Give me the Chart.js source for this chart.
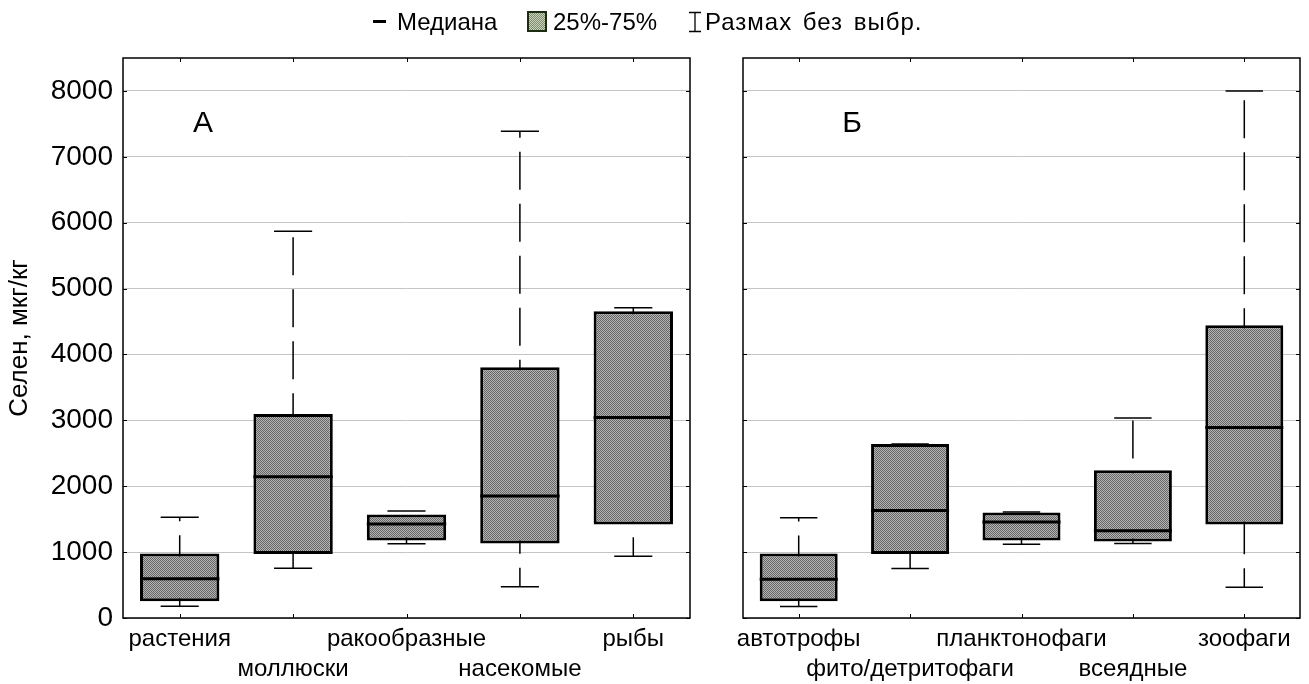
<!DOCTYPE html>
<html lang="ru">
<head>
<meta charset="utf-8">
<title>Селен, мкг/кг</title>
<script src="https://cdn.jsdelivr.net/npm/chart.js@4/dist/chart.umd.min.js"></script>
<style>
  html, body { margin: 0; padding: 0; background: #fff; }
  #wrap { position: relative; width: 1309px; height: 684px; overflow: hidden; font-family: "Liberation Sans", Arial, sans-serif; }
  canvas { position: absolute; top: 0; }
  #cA { left: 0; }
  #cB { left: 716px; }
  .lg { position: absolute; top: 8px; height: 28px; line-height: 28px; font-size: 24px; color: #000; white-space: nowrap; }
  .lg-med { position: absolute; left: 373px; top: 20px; width: 13px; height: 3px; background: #000; }
  .lg-box { position: absolute; left: 527px; top: 11px; width: 16px; height: 17px; border: 2px solid #1c2c12;
            background: repeating-conic-gradient(#7f8c6c 0 25%, #c9d2bb 0 50%) 0 0 / 2px 2px; }
  .lg-whisk { position: absolute; left: 688px; top: 11px; }
</style>
</head>
<body>
<div id="wrap">
  <canvas id="cA" width="716" height="684"></canvas>
  <canvas id="cB" width="593" height="684"></canvas>
  <div class="lg-med"></div>
  <div class="lg" style="left:397px">Медиана</div>
  <div class="lg-box"></div>
  <div class="lg" style="left:553px">25%-75%</div>
  <svg class="lg-whisk" width="14" height="22" viewBox="0 0 14 22">
    <path d="M1 1.5H13M7 1.5V20.5M1 20.5H13" stroke="#000" stroke-width="1.3" fill="none"/>
  </svg>
  <div class="lg" style="left:705px; word-spacing:3px; letter-spacing:1px">Размах без выбр.</div>
</div>
<script>
// Selenium content (мкг/кг) by taxonomic group (А) and by feeding type (Б)
const groupsA = ['растения', 'моллюски', 'ракообразные', 'насекомые', 'рыбы'];
const minA    = [180, 757, 1127, 474, 939];
const q1A     = [255, 970, 1177, 1132, 1421];
const medA    = [595, 2145, 1425, 1851, 3042];
const q3A     = [980, 3097, 1572, 3806, 4657];
const maxA    = [1531, 5870, 1623, 7387, 4710];

const groupsB = ['автотрофы', 'фито/детритофаги', 'планктонофаги', 'всеядные', 'зоофаги'];
const minB    = [175, 752, 1121, 1132, 468];
const q1B     = [255, 970, 1177, 1162, 1421];
const medB    = [590, 1633, 1456, 1325, 2890];
const q3B     = [980, 2641, 1603, 2241, 4444];
const maxB    = [1522, 2641, 1610, 3036, 8000];

const yTicks = [0, 1000, 2000, 3000, 4000, 5000, 6000, 7000, 8000];
const yMax = 8500;
const FONT = '"Liberation Sans", Arial, sans-serif';

// fine grey checker fill used for the interquartile boxes
function boxPattern() {
  const c = document.createElement('canvas');
  c.width = 2; c.height = 2;
  const g = c.getContext('2d');
  g.fillStyle = '#b4b4b4'; g.fillRect(0, 0, 2, 2);
  g.fillStyle = '#666666'; g.fillRect(0, 0, 1, 1); g.fillRect(1, 1, 1, 1);
  return g.createPattern(c, 'repeat');
}

// whiskers (dashed, drawn min→max behind the box), caps and medians
const boxWhiskers = {
  id: 'boxWhiskers',
  beforeDatasetsDraw(chart, args, opts) {
    const { ctx } = chart, y = chart.scales.y;
    const meta = chart.getDatasetMeta(0);
    ctx.save();
    ctx.strokeStyle = '#000';
    ctx.lineWidth = 1.5;
    meta.data.forEach((bar, i) => {
      const yl = y.getPixelForValue(opts.min[i]);
      const yh = y.getPixelForValue(opts.max[i]);
      ctx.setLineDash([38, 14]);
      ctx.lineDashOffset = 19;
      ctx.beginPath(); ctx.moveTo(bar.x, yl); ctx.lineTo(bar.x, yh); ctx.stroke();
      ctx.setLineDash([]);
      const hw = bar.width * 0.24;
      ctx.beginPath();
      ctx.moveTo(bar.x - hw, yl); ctx.lineTo(bar.x + hw, yl);
      ctx.moveTo(bar.x - hw, yh); ctx.lineTo(bar.x + hw, yh);
      ctx.stroke();
    });
    ctx.restore();
  },
  afterDatasetsDraw(chart, args, opts) {
    const { ctx } = chart, y = chart.scales.y;
    const meta = chart.getDatasetMeta(0);
    ctx.save();
    ctx.strokeStyle = '#000';
    ctx.lineWidth = 3;
    meta.data.forEach((bar, i) => {
      const ym = y.getPixelForValue(opts.med[i]);
      ctx.beginPath();
      ctx.moveTo(bar.x - bar.width / 2, ym); ctx.lineTo(bar.x + bar.width / 2, ym);
      ctx.stroke();
    });
    ctx.restore();
  }
};

// closed frame with inward tick marks on all four sides, plus the panel letter
const frame = {
  id: 'frame',
  afterDraw(chart, args, opts) {
    const { ctx, chartArea: a } = chart;
    const x = chart.scales.x, y = chart.scales.y;
    ctx.save();
    ctx.strokeStyle = '#000';
    ctx.lineWidth = 1.5;
    ctx.strokeRect(a.left, a.top, a.right - a.left, a.bottom - a.top);
    ctx.lineWidth = 1;
    ctx.beginPath();
    y.ticks.forEach(t => {
      const py = Math.round(y.getPixelForValue(t.value)) + 0.5;
      ctx.moveTo(a.left, py); ctx.lineTo(a.left + 4, py);
      ctx.moveTo(a.right, py); ctx.lineTo(a.right - 4, py);
    });
    x.ticks.forEach((t, i) => {
      const px = Math.round(x.getPixelForValue(i)) + 0.5;
      ctx.moveTo(px, a.bottom); ctx.lineTo(px, a.bottom - 4);
      ctx.moveTo(px, a.top); ctx.lineTo(px, a.top + 4);
    });
    ctx.stroke();
    ctx.fillStyle = '#000';
    ctx.font = '30px ' + FONT;
    ctx.textAlign = 'center';
    ctx.textBaseline = 'middle';
    ctx.fillText(opts.letter, a.left + (a.right - a.left) * opts.letterPos, y.getPixelForValue(7500));
    ctx.restore();
  }
};

function makeChart(id, groups, mn, q1, md, q3, mx, letter, letterPos, showY, yWidth, padRight) {
  return new Chart(document.getElementById(id), {
    type: 'bar',
    data: {
      labels: groups,
      datasets: [{
        label: '25%-75%',
        data: groups.map((g, i) => [q1[i], q3[i]]),
        backgroundColor: boxPattern(),
        borderColor: '#000',
        borderWidth: 3,
        borderSkipped: false,
        barPercentage: 0.7,
        categoryPercentage: 1.0
      }]
    },
    options: {
      responsive: false,
      animation: false,
      layout: { padding: { top: 58, right: padRight, left: 0, bottom: 0 } },
      plugins: {
        legend: { display: false },
        tooltip: { enabled: false },
        boxWhiskers: { min: mn, med: md, max: mx },
        frame: { letter: letter, letterPos: letterPos }
      },
      scales: {
        x: {
          grid: { display: false },
          border: { display: false },
          ticks: {
            autoSkip: false, maxRotation: 0, minRotation: 0,
            padding: -2, color: '#000',
            font: { family: FONT, size: 24, lineHeight: 1.25 },
            callback: (v, i) => i % 2 === 0 ? groups[i] : ['', groups[i]]
          },
          afterFit: s => { s.height = 66; }
        },
        y: {
          min: 0, max: yMax,
          grid: { color: '#c4c4c4', lineWidth: 1, drawTicks: false },
          border: { display: false },
          afterBuildTicks: s => { s.ticks = yTicks.map(v => ({ value: v })); },
          ticks: {
            display: showY,
            padding: 10, color: '#000',
            font: { family: FONT, size: 28 },
            callback: v => String(v)
          },
          title: {
            display: showY, text: 'Селен, мкг/кг', color: '#000',
            font: { family: FONT, size: 26 }, padding: { top: 4, bottom: 0 }
          },
          afterFit: s => { s.width = yWidth; }
        }
      }
    },
    plugins: [boxWhiskers, frame]
  });
}

makeChart('cA', groupsA, minA, q1A, medA, q3A, maxA, 'А', 0.141, true, 123, 26);
makeChart('cB', groupsB, minB, q1B, medB, q3B, maxB, 'Б', 0.196, false, 27, 9);
</script>
</body>
</html>
